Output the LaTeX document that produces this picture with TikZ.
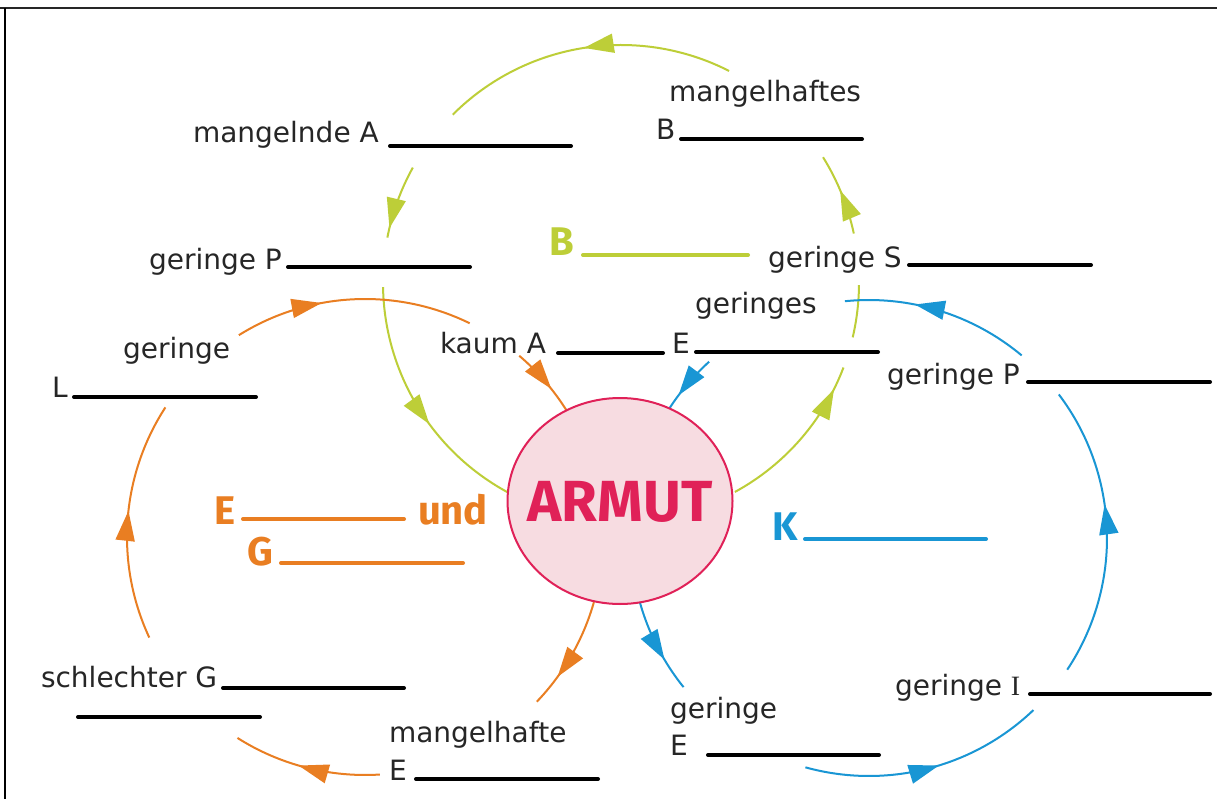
\documentclass[tikz,border=0pt]{standalone}
\usepackage{fontspec}
\setmainfont{DejaVu Sans}
\newfontfamily\fira{Fira Sans}
\newfontfamily\serifI{Liberation Serif}
\usetikzlibrary{arrows.meta,decorations.markings,shapes.geometric,calc}
\definecolor{lgreen}{RGB}{189,206,56}
\definecolor{lorange}{RGB}{233,126,34}
\definecolor{lblue}{RGB}{25,150,212}
\definecolor{crimson}{RGB}{224,33,88}
\definecolor{pinkfill}{RGB}{247,220,225}
\definecolor{ink}{RGB}{38,38,38}
\tikzset{
  txt/.style={anchor=base west, inner sep=0pt, outer sep=0pt, text=ink, font=\fontsize{28}{30}\selectfont},
  bigl/.style={anchor=base west, inner sep=0pt, outer sep=0pt, font=\fira\bfseries\fontsize{40}{44}\selectfont},
  blank/.style={line width=4pt, line cap=round},
  cyc/.style={line width=2pt},
  midarrow/.style={postaction={decorate},decoration={markings,mark=at position #1 with {\arrow{Triangle[length=30pt,width=19pt]}}}},
}
\begin{document}
\begin{tikzpicture}[x=1pt,y=1pt]
\useasboundingbox (0,0) rectangle (1217,-799);
\fill[white] (0,0) rectangle (1217,-799);
% frame
\draw[line width=2.2pt, black!85] (0,-8) -- (1217,-8);
\draw[line width=2.5pt] (5,-8) -- (5,-799);

% centres of the three cycles
\coordinate (gc) at (621,-283);
\coordinate (oc) at (365,-537);
\coordinate (bc) at (869,-538);

% green cycle
\coordinate (g1) at ($(gc)+(63:238)$);
\coordinate (g2) at ($(gc)+(151:238)$);
\coordinate (g3) at ($(gc)+(181:238)$);
\coordinate (g4) at ($(gc)+(298.6:238)$);
\coordinate (g5) at ($(gc)+(346.8:238)$);
\coordinate (g6) at ($(gc)+(12:238)$);
\begin{scope}[lgreen, cyc]
\draw[midarrow=0.5] (g1) arc[start angle=63, end angle=135, radius=238];
\draw[midarrow=0.87] (g2) arc[start angle=151, end angle=169, radius=238];
\draw[midarrow=0.58] (g3) arc[start angle=181, end angle=242, radius=238];
\draw[midarrow=0.86] (g4) arc[start angle=298.6, end angle=339.2, radius=238];
\draw (g5) arc[start angle=346.8, end angle=359.5, radius=238];
\draw[midarrow=0.55] (g6) arc[start angle=12, end angle=31.9, radius=238];
\end{scope}

% orange cycle
\coordinate (o1) at ($(oc)+(-15.9:238)$);
\coordinate (o2) at ($(oc)+(273.6:238)$);
\coordinate (o3) at ($(oc)+(205:238)$);
\coordinate (o4) at ($(oc)+(122:238)$);
\coordinate (o5) at ($(oc)+(49.6:238)$);
\begin{scope}[lorange, cyc]
\draw[midarrow=0.72] (o1) arc[start angle=-15.9, end angle=-43.8, radius=238];
\draw[midarrow=0.55] (o2) arc[start angle=273.6, end angle=237.6, radius=238];
\draw[midarrow=0.54] (o3) arc[start angle=205, end angle=147, radius=238];
\draw[midarrow=0.37] (o4) arc[start angle=122, end angle=63.9, radius=238];
\draw[midarrow=0.64] (o5) arc[start angle=49.6, end angle=32.2, radius=238];
\end{scope}

% blue cycle
\coordinate (b1) at ($(bc)+(195.8:238)$);
\coordinate (b2) at ($(bc)+(254.5:238)$);
\coordinate (b3) at ($(bc)+(326.4:238)$);
\coordinate (b4) at ($(bc)+(50.1:238)$);
\coordinate (b5) at ($(bc)+(132.2:238)$);
\begin{scope}[lblue, cyc]
\draw[midarrow=0.65] (b1) arc[start angle=195.8, end angle=218.8, radius=238];
\draw[midarrow=0.55] (b2) arc[start angle=254.5, end angle=313.7, radius=238];
\draw[midarrow=0.59] (b3) arc[start angle=326.4, end angle=397.1, radius=238];
\draw[midarrow=0.63] (b4) arc[start angle=50.1, end angle=95.8, radius=238];
\draw[midarrow=0.74] (b5) arc[start angle=132.2, end angle=147, radius=238];
\end{scope}

% centre
\node[ellipse, draw=crimson, fill=pinkfill, line width=2pt, minimum width=225pt, minimum height=206pt, inner sep=0pt] (armut) at (620,-501) {};
\node[inner sep=0pt, text=crimson, font=\fira\bfseries\fontsize{58}{60}\selectfont] (armutlabel) at (620,-502) {ARMUT};

% texts
\node[txt] (t1) at (193,-143) {mangelnde A};
\node[txt] (t2) at (669,-102) {mangelhaftes};
\node[txt] (t2b) at (656,-140) {B};
\node[txt] (t3) at (149,-270) {geringe P};
\node[txt] (t4) at (768,-268) {geringe S};
\node[txt] (t5) at (123,-358) {geringe};
\node[txt] (t5b) at (52,-397) {L};
\node[txt] (t6) at (440,-353) {kaum A};
\node[txt] (t7) at (695,-313) {geringes};
\node[txt] (t7b) at (672,-353) {E};
\node[txt] (t8) at (887,-384) {geringe P};
\node[txt] (t9) at (41,-687) {schlechter G};
\node[txt] (t10) at (389,-742) {mangelhafte};
\node[txt] (t10b) at (389,-780) {E};
\node[txt] (t11) at (670,-718) {geringe};
\node[txt] (t11b) at (670,-755) {E};
\node[txt] (t12) at (895,-695) {geringe {\serifI I}};

\node[bigl, text=lgreen] (lb) at (549,-256) {B};
\node[bigl, text=lorange] (le) at (214,-524) {E};
\node[bigl, text=lorange] (lund) at (418,-524) {und};
\node[bigl, text=lorange] (lg) at (247,-565) {G};
\node[bigl, text=lblue] (lk) at (772,-540) {K};

% blanks
\draw[blank] (390,-146) -- (571,-146);
\draw[blank] (681,-139) -- (862,-139);
\draw[blank] (288,-267) -- (470,-267);
\draw[blank] (909,-265) -- (1091,-265);
\draw[blank] (74,-397) -- (256,-397);
\draw[blank] (558,-353) -- (663,-353);
\draw[blank] (696,-352) -- (878,-352);
\draw[blank] (1028,-382) -- (1210,-382);
\draw[blank] (223,-688) -- (404,-688);
\draw[blank] (78,-717) -- (260,-717);
\draw[blank] (416,-779) -- (598,-779);
\draw[blank] (708,-755) -- (879,-755);
\draw[blank] (1030,-694) -- (1210,-694);
\draw[blank, lgreen] (583,-255) -- (748,-255);
\draw[blank, lorange] (243,-519) -- (404,-519);
\draw[blank, lorange] (281,-563) -- (463,-563);
\draw[blank, lblue] (805,-539) -- (986,-539);
\end{tikzpicture}
\end{document}
